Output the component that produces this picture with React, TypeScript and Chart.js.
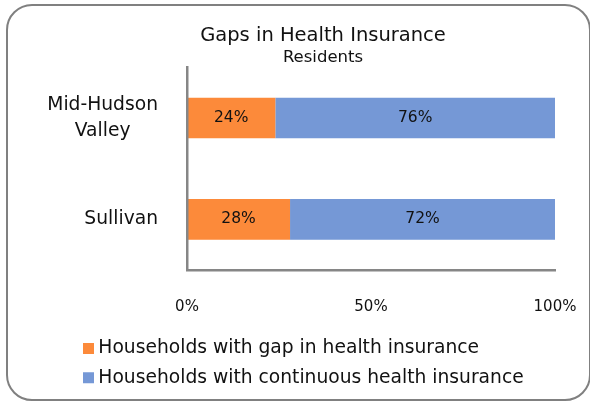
import React, { useEffect, useRef } from 'react';
import { Chart, registerables } from 'chart.js';

Chart.register(...registerables);

const TITLE = 'Gaps in Health Insurance';
const SUBTITLE = 'Residents';
const CATEGORIES: (string | string[])[] = [['Mid-Hudson', 'Valley    \u2009'], 'Sullivan'];
const SERIES_NAMES = [
  'Households with gap in health insurance',
  'Households with continuous health insurance',
];
const GAP_VALUES = [24, 28];
const CONTINUOUS_VALUES = [76, 72];
const X_TICKS = [0, 50, 100];
const SERIES_COLORS = ['#FC8A3A', '#7598D6'];

const FONT = 'DejaVu Sans';
const AXIS_COLOR = '#868686';

const dataLabels = {
  id: 'dataLabels',
  afterDatasetsDraw(chart: any) {
    const ctx = chart.ctx;
    ctx.save();
    ctx.font = `15.5px "${FONT}"`;
    ctx.fillStyle = '#111';
    ctx.textAlign = 'center';
    ctx.textBaseline = 'middle';
    chart.data.datasets.forEach((ds: any, i: number) => {
      const meta = chart.getDatasetMeta(i);
      meta.data.forEach((el: any, j: number) => {
        const p = el.getCenterPoint();
        ctx.fillText(`${ds.data[j]}%`, p.x, p.y);
      });
    });
    ctx.restore();
  },
};

// Legend rows start further left than the title block; category labels
// may extend left of the y-axis box (no clipping).
const layoutNudge = {
  id: 'layoutNudge',
  afterLayout(chart: any) {
    if (chart.legend) chart.legend.left -= 13.5;
    if (chart.scales && chart.scales.y) chart.scales.y.left = 0;
  },
};

export default function App() {
  const ref = useRef<HTMLCanvasElement | null>(null);

  useEffect(() => {
    if (!ref.current) return;
    const chart = new Chart(ref.current, {
      type: 'bar',
      data: {
        labels: CATEGORIES,
        datasets: [
          {
            label: SERIES_NAMES[0],
            data: GAP_VALUES,
            backgroundColor: SERIES_COLORS[0],
            borderWidth: 0,
            barPercentage: 0.5,
            categoryPercentage: 0.8,
          },
          {
            label: SERIES_NAMES[1],
            data: CONTINUOUS_VALUES,
            backgroundColor: SERIES_COLORS[1],
            borderWidth: 0,
            barPercentage: 0.5,
            categoryPercentage: 0.8,
          },
        ],
      },
      options: {
        indexAxis: 'y',
        responsive: false,
        animation: false,
        devicePixelRatio: 1,
        layout: { padding: { left: 91, right: 35, top: 0, bottom: 5 } },
        scales: {
          x: {
            stacked: true,
            min: 0,
            max: 100,
            afterBuildTicks: (scale: any) => {
              scale.ticks = X_TICKS.map((v) => ({ value: v }));
            },
            afterFit: (scale: any) => {
              scale.height = 58.5;
            },
            grid: { display: false, drawTicks: true, tickLength: 28 },
            border: { display: true, color: AXIS_COLOR, width: 2.5, z: 1 },
            ticks: {
              padding: 0,
              color: '#111',
              font: { family: FONT, size: 15 },
              callback: (v: any) => `${v}%`,
              maxRotation: 0,
            },
          },
          y: {
            stacked: true,
            afterFit: (scale: any) => {
              scale.width = 96;
            },
            grid: { display: false, drawTicks: true, tickLength: 29 },
            border: { display: true, color: AXIS_COLOR, width: 2.5, z: 1 },
            ticks: {
              padding: 0,
              color: '#111',
              font: { family: FONT, size: 18.7, lineHeight: 1.4 },
            },
          },
        },
        plugins: {
          title: {
            display: true,
            text: TITLE,
            color: '#111',
            font: { family: FONT, size: 19.5, weight: 'normal', lineHeight: 1.2 },
            padding: { top: 24, bottom: 0 },
          },
          subtitle: {
            display: true,
            text: SUBTITLE,
            color: '#111',
            font: { family: FONT, size: 16.5, weight: 'normal', lineHeight: 1.2 },
            padding: { top: 0, bottom: 0 },
          },
          legend: {
            display: true,
            position: 'bottom',
            align: 'start',
            labels: {
              color: '#111',
              font: { family: FONT, size: 18.7 },
              usePointStyle: true,
              pointStyle: 'rect',
              boxWidth: 1,
              boxHeight: 11,
              padding: 10.5,
            },
          },
          tooltip: { enabled: false },
        },
      },
      plugins: [dataLabels, layoutNudge],
    } as any);
    return () => chart.destroy();
  }, []);

  return (
    <div style={{ position: 'absolute', left: 0, top: 0, width: 590, height: 402, overflow: 'hidden', background: '#fff' }}>
      <canvas ref={ref} width={590} height={402} style={{ position: 'absolute', left: 0, top: 0, width: 590, height: 402 }} />
      <div
        style={{
          position: 'absolute',
          left: 6,
          top: 4,
          width: 585,
          height: 397,
          boxSizing: 'border-box',
          border: '2px solid #808080',
          borderRadius: 26,
          pointerEvents: 'none',
        }}
      />
    </div>
  );
}
